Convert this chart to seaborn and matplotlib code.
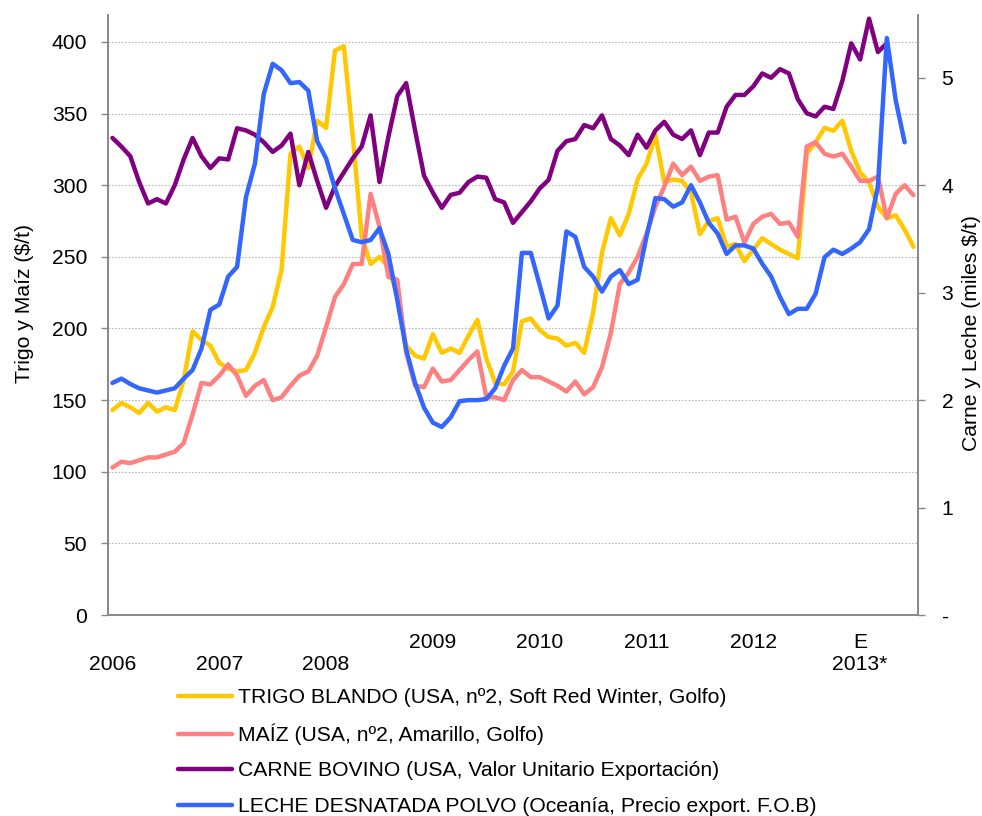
import matplotlib
matplotlib.use("Agg")
import matplotlib.pyplot as plt
from matplotlib.ticker import FixedLocator
import seaborn as sns
import numpy as np
import pandas as pd

# monthly series, Jan 2006 onwards
trigo = [143, 148, 145, 141, 148, 142, 145, 143, 164, 198, 192, 188, 176, 172, 170, 171,
         183, 201, 215, 241, 322, 327, 312, 345, 340, 394, 397, 334, 264, 245, 250, 243,
         223, 188, 181, 179, 196, 183, 186, 183, 195, 206, 179, 162, 161, 170, 205, 207,
         199, 194, 193, 188, 190, 183, 211, 253, 277, 265, 280, 304, 315, 335, 302, 304,
         303, 295, 266, 275, 277, 257, 259, 247, 255, 263, 259, 255, 252, 249, 322, 330,
         340, 338, 345, 324, 309, 302, 285, 277, 279, 269, 257]
maiz = [103, 107, 106, 108, 110, 110, 112, 114, 120, 140, 162, 161, 167, 175, 167, 153,
        160, 164, 150, 152, 160, 167, 170, 181, 201, 222, 231, 245, 245, 294, 271, 236,
        234, 183, 160, 159, 172, 163, 164, 171, 178, 184, 152, 152, 150, 164, 171, 166,
        166, 163, 160, 156, 163, 154, 159, 173, 197, 231, 239, 250, 266, 285, 299, 315,
        307, 313, 303, 306, 307, 276, 278, 260, 273, 278, 280, 273, 274, 264, 327, 330,
        322, 320, 322, 313, 303, 303, 306, 277, 294, 300, 293]
# miles $/t
carne = [4.44, 4.36, 4.27, 4.03, 3.83, 3.87, 3.83, 4.00, 4.24, 4.44, 4.27, 4.16, 4.25,
         4.24, 4.53, 4.51, 4.47, 4.40, 4.31, 4.37, 4.48, 4.00, 4.31, 4.04, 3.79, 3.99,
         4.12, 4.25, 4.36, 4.65, 4.03, 4.45, 4.83, 4.95, 4.51, 4.09, 3.93, 3.79, 3.91,
         3.93, 4.03, 4.08, 4.07, 3.87, 3.84, 3.65, 3.75, 3.85, 3.97, 4.05, 4.32, 4.41,
         4.43, 4.56, 4.53, 4.65, 4.43, 4.37, 4.28, 4.47, 4.35, 4.51, 4.59, 4.47, 4.43,
         4.51, 4.28, 4.49, 4.49, 4.73, 4.84, 4.84, 4.92, 5.04, 5.00, 5.08, 5.04, 4.80,
         4.67, 4.64, 4.73, 4.71, 4.97, 5.32, 5.17, 5.55, 5.24, 5.32]
leche = [2.16, 2.20, 2.15, 2.11, 2.09, 2.07, 2.09, 2.11, 2.20, 2.28, 2.48, 2.84, 2.89,
         3.15, 3.24, 3.89, 4.20, 4.85, 5.13, 5.07, 4.95, 4.96, 4.88, 4.41, 4.25, 3.97,
         3.73, 3.49, 3.47, 3.49, 3.60, 3.36, 2.93, 2.47, 2.16, 1.93, 1.79, 1.75, 1.84,
         1.99, 2.00, 2.00, 2.01, 2.11, 2.32, 2.48, 3.37, 3.37, 3.07, 2.76, 2.88, 3.57,
         3.52, 3.24, 3.15, 3.01, 3.15, 3.21, 3.08, 3.12, 3.52, 3.88, 3.87, 3.80, 3.84,
         4.00, 3.84, 3.65, 3.55, 3.36, 3.44, 3.44, 3.41, 3.27, 3.15, 2.96, 2.80, 2.85,
         2.85, 2.99, 3.33, 3.40, 3.36, 3.41, 3.47, 3.59, 3.99, 5.37, 4.79, 4.40]

year_pos = [0, 12, 24, 36, 48, 60, 72, 84]
year_labels = ["\n2006", "\n2007", "\n2008", "2009", "2010", "2011", "2012", "E\n2013*"]
left_ticks = [0, 50, 100, 150, 200, 250, 300, 350, 400]
right_ticks = [0, 1, 2, 3, 4, 5]
right_labels = ["-", "1", "2", "3", "4", "5"]

labels = ["TRIGO BLANDO (USA, nº2, Soft Red Winter, Golfo)",
          "MAÍZ (USA, nº2, Amarillo, Golfo)",
          "CARNE BOVINO (USA, Valor Unitario Exportación)",
          "LECHE DESNATADA POLVO (Oceanía, Precio export. F.O.B)"]
colors = ["#FFC800", "#FF8080", "#800080", "#3366FF"]

sns.set_style("white")
plt.rcParams["font.family"] = ["Liberation Sans", "DejaVu Sans"]
plt.rcParams["text.color"] = "black"
plt.rcParams["axes.labelcolor"] = "black"
plt.rcParams["xtick.color"] = "black"
plt.rcParams["ytick.color"] = "black"
FS = 15.2
GREY = "#888888"

fig = plt.figure(figsize=(9.82, 8.16), dpi=100)
ax = fig.add_axes([0.110, 0.2463, 0.8248, 0.7353])
ax2 = ax.twinx()

lw = 3.2
sns.lineplot(x=np.arange(len(trigo)), y=trigo, ax=ax, color=colors[0], lw=lw,
             solid_joinstyle="round", solid_capstyle="round")
sns.lineplot(x=np.arange(len(maiz)), y=maiz, ax=ax, color=colors[1], lw=lw,
             solid_joinstyle="round", solid_capstyle="round")
sns.lineplot(x=np.arange(len(carne)), y=carne, ax=ax2, color=colors[2], lw=lw,
             solid_joinstyle="round", solid_capstyle="round")
sns.lineplot(x=np.arange(len(leche)), y=leche, ax=ax2, color=colors[3], lw=lw,
             solid_joinstyle="round", solid_capstyle="round")

ymax = 418.8
ax.set_ylim(0, ymax)
ax2.set_ylim(0, ymax / 75)
ax.set_xlim(-0.5, 90.5)

ax.set_yticks(left_ticks)
ax.set_yticklabels([str(t) for t in left_ticks], fontsize=FS)
ax2.set_yticks(right_ticks)
ax2.set_yticklabels(right_labels, fontsize=FS)
ax.yaxis.grid(True, linestyle=(0, (1.5, 1.5)), color="#b8b8b8", lw=0.8)
ax.set_axisbelow(True)

ax.set_xticks(year_pos)
ax.set_xticklabels(year_labels, fontsize=FS, linespacing=1.2)
ax.xaxis.set_minor_locator(FixedLocator(np.arange(-0.5, 91, 1)))
ax.tick_params(axis="x", which="major", length=0, pad=13)
ax.tick_params(axis="x", which="minor", length=5, color=GREY, width=1, direction="out")
ax.tick_params(axis="y", length=5, color=GREY, width=1, direction="out", pad=10, left=True,
               labelcolor="black")
ax2.tick_params(axis="y", length=5, color=GREY, width=1, direction="out", pad=12, right=True,
                labelcolor="black")
ax.tick_params(axis="x", labelcolor="black")

for a in (ax, ax2):
    for s in a.spines.values():
        s.set_color(GREY)
        s.set_linewidth(1.2)
    a.spines["top"].set_visible(False)

ax.set_ylabel("Trigo y Maíz ($/t)", fontsize=FS, color="black")
ax.yaxis.set_label_coords(-0.091, 0.52)
ax2.set_ylabel("Carne y Leche (miles $/t)", fontsize=FS, color="black")
ax2.yaxis.set_label_coords(1.054, 0.47)

handles = ax.get_lines()[:2] + ax2.get_lines()[:2]
leg = fig.legend(handles, labels, loc="upper left",
                 bbox_to_anchor=(178 / 982, 1 - 688 / 816),
                 frameon=False, fontsize=FS, handlelength=2.55, handletextpad=0.3,
                 labelspacing=0.78, borderpad=0, borderaxespad=0)
for t in leg.get_texts():
    t.set_color("black")

fig.savefig("out.png", dpi=100)
